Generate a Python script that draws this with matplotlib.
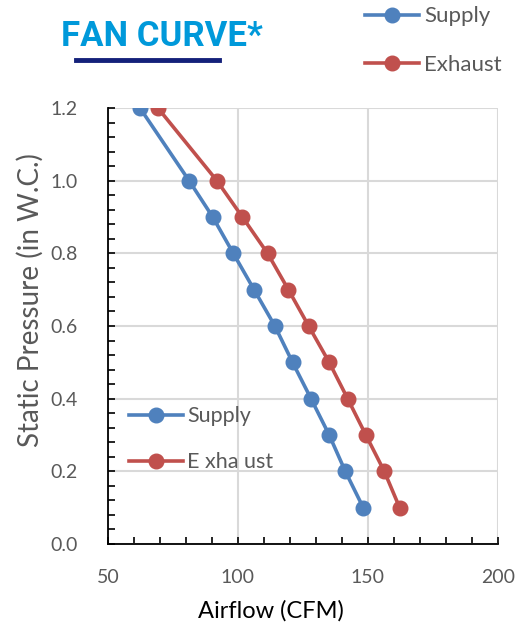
import matplotlib.pyplot as plt
from matplotlib.lines import Line2D
from matplotlib.ticker import MultipleLocator

# Fan curve data
pressure = [1.2, 1.0, 0.9, 0.8, 0.7, 0.6, 0.5, 0.4, 0.3, 0.2, 0.1]
supply_cfm = [62.3, 81.2, 90.3, 98.2, 106.2, 114.2, 121.0, 128.1, 135.1, 141.3, 148.2]
exhaust_cfm = [69.2, 91.9, 101.7, 111.4, 119.4, 127.2, 135.1, 142.2, 149.2, 156.3, 162.2]

blue = '#4F81BD'
red = '#C0504D'
gray_text = '#595959'

plt.rcParams['font.family'] = ['Lato', 'DejaVu Sans']

fig = plt.figure(figsize=(5.23, 6.23), dpi=100)
ax = fig.add_axes([0.2065, 0.1268, 0.7455, 0.6998])

ax.plot(supply_cfm, pressure, color=blue, lw=2.6, marker='o', ms=10.5, zorder=3)
ax.plot(exhaust_cfm, pressure, color=red, lw=2.6, marker='o', ms=10.5, zorder=3)

ax.set_xlim(50, 200)
ax.set_ylim(0, 1.2)
ax.xaxis.set_major_locator(MultipleLocator(50))
ax.xaxis.set_minor_locator(MultipleLocator(10))
ax.yaxis.set_major_locator(MultipleLocator(0.2))
ax.yaxis.set_minor_locator(MultipleLocator(0.04))
ax.yaxis.set_major_formatter(plt.FuncFormatter(lambda v, p: f"{v:.1f}"))

ax.grid(True, which='major', color='#D9D9D9', lw=1.5, zorder=0)
ax.set_axisbelow(True)
for s in ['top', 'right']:
    ax.spines[s].set_visible(False)
for s in ['left', 'bottom']:
    ax.spines[s].set_color('black')
    ax.spines[s].set_linewidth(1.3)

ax.tick_params(which='both', direction='in', color='black', width=1.2,
               labelsize=14, labelcolor=gray_text)
ax.tick_params(which='major', length=5, pad=22)
ax.tick_params(axis='x', which='major', pad=18)
ax.tick_params(which='minor', length=5)

ax.set_xlabel('Airflow (CFM)', fontsize=17, color='black')
ax.set_ylabel('Static Pressure (in W.C.)', fontsize=20, color=gray_text)
ax.xaxis.set_label_coords(0.418, -0.128)
ax.yaxis.set_label_coords(-0.165, 0.56)

handles = [Line2D([], [], color=blue, lw=2.6, marker='o', ms=10.5),
           Line2D([], [], color=red, lw=2.6, marker='o', ms=10.5)]

# legend inside the plot (spacing kept as in the reference)
ax.legend(handles, ['Supply', 'E xha ust'], loc='upper left',
          bbox_to_anchor=(0.005, 0.36), frameon=False, fontsize=15.5,
          handlelength=2.5, handletextpad=0.2, labelspacing=1.2,
          labelcolor=gray_text)

# legend at the top right
fig.legend(handles, ['Supply', 'Exhaust'], loc='upper left',
           bbox_to_anchor=(0.66, 1.022), frameon=False, fontsize=16,
           handlelength=2.4, handletextpad=0.25, labelspacing=1.3,
           labelcolor=gray_text)

fig.text(0.31, 0.942, 'FAN CURVE*', fontsize=25, fontweight='bold',
         color='#0099DA', ha='center', va='center', family='Roboto')
fig.add_artist(Line2D([76 / 523, 219 / 523], [1 - 60 / 623, 1 - 60 / 623],
                      color='#14217A', lw=3.5))

fig.savefig('out.png', dpi=100)
